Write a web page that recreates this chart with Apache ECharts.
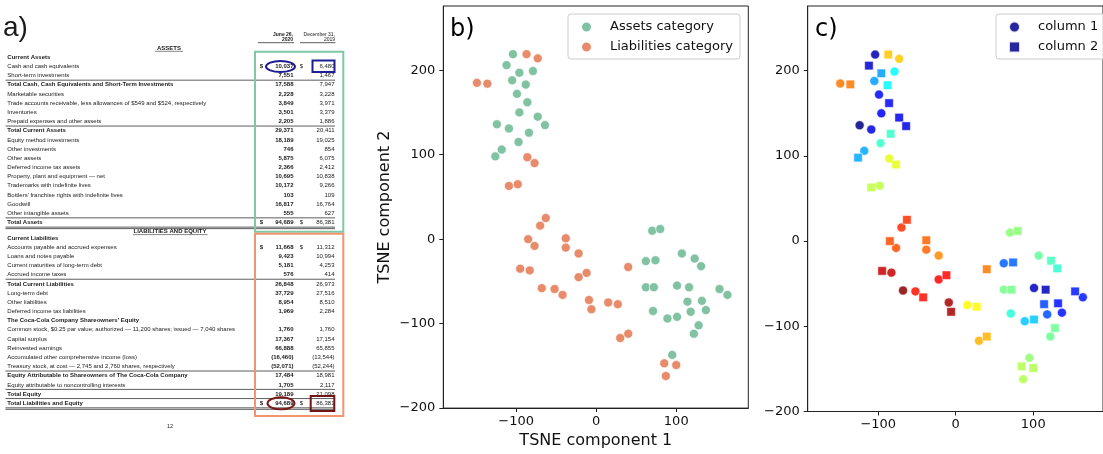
<!DOCTYPE html>
<html>
<head>
<meta charset="utf-8">
<script src="https://cdn.jsdelivr.net/npm/echarts@6/dist/echarts.min.js"></script>
<style>
html, body { margin: 0; padding: 0; background: #fff; }
#fig { width: 1103px; height: 454px; }
</style>
</head>
<body>
<div id="fig"></div>
<script>
// ---- balance sheet rows (panel a) ----
var assetLabels = ['Current Assets', 'Cash and cash equivalents', 'Short-term investments',
    'Total Cash, Cash Equivalents and Short-Term Investments', 'Marketable securities',
    'Trade accounts receivable, less allowances of $549 and $524, respectively', 'Inventories',
    'Prepaid expenses and other assets', 'Total Current Assets', 'Equity method investments',
    'Other investments', 'Other assets', 'Deferred income tax assets', 'Property, plant and equipment \u2014 net',
    'Trademarks with indefinite lives', "Bottlers' franchise rights with indefinite lives", 'Goodwill',
    'Other intangible assets', 'Total Assets'];
var assets2020 = ['', '10,037', '7,551', '17,588', '2,228', '3,849', '3,501', '2,205', '29,371', '18,189',
    '746', '5,875', '2,366', '10,695', '10,172', '103', '16,817', '555', '94,689'];
var assets2019 = ['', '6,480', '1,467', '7,947', '3,228', '3,971', '3,379', '1,886', '20,411', '19,025',
    '854', '6,075', '2,412', '10,838', '9,266', '109', '16,764', '627', '86,381'];

var liabLabels = ['Current Liabilities', 'Accounts payable and accrued expenses', 'Loans and notes payable',
    'Current maturities of long-term debt', 'Accrued income taxes', 'Total Current Liabilities', 'Long-term debt',
    'Other liabilities', 'Deferred income tax liabilities', "The Coca-Cola Company Shareowners' Equity",
    'Common stock, $0.25 par value; authorized \u2014 11,200 shares; issued \u2014 7,040 shares', 'Capital surplus',
    'Reinvested earnings', 'Accumulated other comprehensive income (loss)',
    'Treasury stock, at cost \u2014 2,745 and 2,760 shares, respectively',
    'Equity Attributable to Shareowners of The Coca-Cola Company', 'Equity attributable to noncontrolling interests',
    'Total Equity', 'Total Liabilities and Equity'];
var liab2020 = ['', '11,668', '9,423', '5,181', '576', '26,848', '37,729', '8,954', '1,969', '', '1,760',
    '17,367', '66,888', '(16,460)', '(52,071)', '17,484', '1,705', '19,189', '94,689'];
var liab2019 = ['', '11,312', '10,994', '4,253', '414', '26,973', '27,516', '8,510', '2,284', '', '1,760',
    '17,154', '65,855', '(13,544)', '(52,244)', '18,981', '2,117', '21,098', '86,381'];

// ---- TSNE points (panels b and c) ----
var ptX = [-104, -87, -73, -112, -96, -79, -105, -88, -149, -136, -99, -86, -96, -73, -64, -124, -109, -84, -97, -118, -126, -86, -77, -109, -98,
    -63, -70, -85, -77, -38, -38, -22, -95, -83, 40, -12, -22, -68, -52, -42, -9, -6, 15, 27, 30, 40,
    70, 80, 62, 74, 107, 123, 131, 62, 72, 101, 116, 154, 164, 114, 132, 118, 137, 71, 89, 101, 128, 122, 95, 85, 100, 87];
var ptY = [219, 219, 214, 206, 197, 199, 188, 183, 185, 184, 172, 162, 150, 145, 135, 136, 131, 126, 115, 106, 98, 97, 90, 63, 65,
    25, 16, 0, -8, 1, -10, -17, -35, -37, -33, -40, -45, -58, -59, -66, -72, -83, -75, -77, -117, -112,
    10, 12, -26, -25, -17, -23, -32, -57, -57, -55, -57, -59, -66, -74, -73, -86, -84, -85, -94, -92, -102, -112, -137, -147, -149, -162];
var ptShade = [.05, .68, .68, .08, .28, .37, .28, .37, .76, .76, .13, .13, .12, .11, .10, 0, .10, .43, .43, .29, .29, .60, .60, .56, .56,
    .83, .83, .80, .80, .78, .78, .74, .93, .93, .76, .87, .87, .99, .86, .86, .96, .96, .63, .63, .70, .70,
    .51, .51, .22, .22, .47, .44, .42, .49, .49, .06, .06, .15, .15, .19, .14, .20, .14, .41, .32, .32, .48, .48, .52, .55, .55, .55];
var ptColumn = [1, 2, 1, 2, 2, 1, 1, 2, 1, 2, 1, 2, 1, 2, 2, 1, 1, 2, 1, 1, 2, 1, 2, 2, 1,
    2, 1, 2, 1, 2, 1, 1, 2, 1, 2, 2, 1, 1, 1, 2, 1, 2, 1, 2, 1, 2,
    1, 2, 1, 2, 1, 2, 2, 1, 2, 1, 2, 2, 1, 2, 2, 1, 1, 1, 1, 2, 2, 1, 1, 2, 2, 1];
var ptCategory = ['A', 'L', 'L', 'A', 'A', 'A', 'A', 'A', 'L', 'L', 'A', 'A', 'A', 'A', 'A', 'A', 'A', 'A', 'A', 'A', 'A', 'L', 'L', 'L', 'L',
    'L', 'L', 'L', 'L', 'L', 'L', 'L', 'L', 'L', 'L', 'L', 'L', 'L', 'L', 'L', 'L', 'L', 'L', 'L', 'L', 'L',
    'A', 'A', 'A', 'A', 'A', 'A', 'A', 'A', 'A', 'A', 'A', 'A', 'A', 'A', 'A', 'A', 'A', 'A', 'A', 'A', 'A', 'A', 'A', 'L', 'L', 'L'];

var xTicks = [-100, 0, 100];
var yTicks = [-200, -100, 0, 100, 200];

var jet = ['#00007f', '#0000ff', '#007fff', '#00ffff', '#7fff7f', '#ffff00', '#ff7f00', '#ff0000', '#7f0000'];

// ---- panel a drawn as graphic text ----
var SHEET_FONT = '"Liberation Sans", Arial, sans-serif';
var ROW = 9.18;
var els = [];

function addText(x, y, s, bold, align, size) {
    els.push({
        type: 'text', x: x, y: y, silent: true,
        style: {
            text: s, font: (bold ? 'bold ' : '') + (size || 6) + 'px ' + SHEET_FONT,
            fill: '#1a1a1a', align: align || 'left', verticalAlign: 'middle'
        }
    });
}
function addLine(x1, y1, x2, y2, w, c) {
    els.push({
        type: 'line', silent: true, shape: {x1: x1, y1: y1, x2: x2, y2: y2},
        style: {stroke: c || '#333', lineWidth: w || 0.8}
    });
}
function section(labels, v1, v2, bold, dollar, lines, y0) {
    labels.forEach(function (lab, i) {
        var y = y0 + i * ROW;
        addText(7.3, y, lab, bold.indexOf(i) >= 0);
        if (v1[i]) addText(293.5, y, v1[i], true, 'right');
        if (v2[i]) addText(334.5, y, v2[i], false, 'right');
        if (dollar.indexOf(i) >= 0) {
            addText(259.8, y, '$', true);
            addText(299.8, y, '$', false);
        }
    });
    lines.forEach(function (i) {
        addLine(5.5, y0 + i * ROW + 4.5, 335, y0 + i * ROW + 4.5);
    });
    var last = labels.length - 1;
    addLine(5.5, y0 + last * ROW + 4.6, 335, y0 + last * ROW + 4.6);
    addLine(5.5, y0 + last * ROW + 6.1, 335, y0 + last * ROW + 6.1);
}

addText(3, 28.5, 'a)', false, 'left', 28);
addText(293, 34.3, 'June 26,', true, 'right', 5);
addText(293, 39.3, '2020', true, 'right', 5);
addText(335, 34.3, 'December 31,', false, 'right', 5);
addText(335, 39.3, '2019', false, 'right', 5);
addLine(258, 42.7, 294, 42.7, 0.8);
addLine(300, 42.7, 335.5, 42.7, 0.8);
addText(169, 48, 'ASSETS', true, 'center');
addLine(155, 51.3, 183, 51.3, 0.6);
section(assetLabels, assets2020, assets2019, [0, 3, 8, 18], [1, 18], [2, 7, 17], 57.3);
addText(170, 231.5, 'LIABILITIES AND EQUITY', true, 'center');
addLine(133, 234.6, 207.5, 234.6, 0.6);
section(liabLabels, liab2020, liab2019, [0, 5, 9, 15, 17, 18], [1, 18], [4, 14, 16, 17], 238);
addText(170, 426.5, '12', false, 'center', 5.5);

// coloured boxes and marks
els.push({type: 'rect', silent: true, shape: {x: 255, y: 51.7, width: 88.3, height: 180},
    style: {fill: 'none', stroke: '#7ec8a7', lineWidth: 2}});
els.push({type: 'rect', silent: true, shape: {x: 255, y: 233.7, width: 88.3, height: 182.3},
    style: {fill: 'none', stroke: '#f2956d', lineWidth: 2}});
els.push({type: 'ellipse', silent: true, shape: {cx: 280.5, cy: 66.5, rx: 14.5, ry: 5.5},
    style: {fill: 'none', stroke: '#1c1c90', lineWidth: 2}});
els.push({type: 'rect', silent: true, shape: {x: 312.5, y: 60.5, width: 22, height: 11.5},
    style: {fill: 'none', stroke: '#1d1d94', lineWidth: 2}});
els.push({type: 'ellipse', silent: true, shape: {cx: 281, cy: 403.3, rx: 13.5, ry: 6},
    style: {fill: 'none', stroke: '#7b1717', lineWidth: 2}});
els.push({type: 'rect', silent: true, shape: {x: 310.7, y: 396, width: 23.6, height: 15},
    style: {fill: 'none', stroke: '#6f1515', lineWidth: 2}});

// panel letters b) c)
els.push({type: 'text', x: 450, y: 29.5, silent: true,
    style: {text: 'b)', font: '24px "DejaVu Sans"', fill: '#000', verticalAlign: 'middle'}});
els.push({type: 'text', x: 815, y: 29.5, silent: true,
    style: {text: 'c)', font: '24px "DejaVu Sans"', fill: '#000', verticalAlign: 'middle'}});

// ---- scatter data ----
var assetPts = [], liabPts = [], col1Pts = [], col2Pts = [];
for (var i = 0; i < ptX.length; i++) {
    (ptCategory[i] === 'A' ? assetPts : liabPts).push([ptX[i], ptY[i]]);
    (ptColumn[i] === 1 ? col1Pts : col2Pts).push([ptX[i], ptY[i], ptShade[i]]);
}

function minus(v) { return v < 0 ? '\u2212' + Math.abs(v) : String(v); }
var tickFont = {fontFamily: 'DejaVu Sans', fontSize: 13, color: '#111'};
var nameFont = {fontFamily: 'DejaVu Sans', fontSize: 16, color: '#111'};

function xAxisFor(g, name) {
    return {
        type: 'value', gridIndex: g, min: -191, max: 190,
        splitLine: {show: false},
        axisLine: {onZero: false, lineStyle: {color: '#222', width: 1}},
        axisTick: {length: 4, lineStyle: {color: '#222'}, customValues: xTicks},
        axisLabel: Object.assign({customValues: xTicks, formatter: minus, margin: 7}, tickFont),
        name: name, nameLocation: 'middle', nameGap: 24, nameTextStyle: nameFont
    };
}
function yAxisFor(g, name) {
    return {
        type: 'value', gridIndex: g, min: -200, max: 276,
        splitLine: {show: false},
        axisLine: {onZero: false, lineStyle: {color: '#222', width: 1}},
        axisTick: {length: 4, lineStyle: {color: '#222'}, customValues: yTicks},
        axisLabel: Object.assign({customValues: yTicks, formatter: minus, margin: 8}, tickFont),
        name: name, nameLocation: 'middle', nameGap: 50, nameTextStyle: nameFont
    };
}
var legendBase = {
    orient: 'vertical', top: 14, itemWidth: 25, itemHeight: 11, itemGap: 6,
    padding: [6, 7, 5, 12], borderColor: '#ccc', borderWidth: 1, borderRadius: 3,
    backgroundColor: 'rgba(255,255,255,0.8)', symbolKeepAspect: true,
    formatter: function (name) { return '{t|' + name + '}'; },
    textStyle: {
        fontFamily: 'DejaVu Sans', fontSize: 13, color: '#111', lineHeight: 14,
        rich: {t: {fontFamily: 'DejaVu Sans', fontSize: 13, color: '#111', lineHeight: 14, padding: [0, 0, 0, 6]}}
    }
};
var squareIcon = 'path://M0,0L10,0L10,10L0,10Z';

var myChart = echarts.init(document.getElementById('fig'), null, {renderer: 'canvas'});
var option = {
    animation: false,
    backgroundColor: '#fff',
    graphic: {elements: els},
    grid: [
        {left: 443.3, top: 6, width: 305, height: 405.5, show: true, borderColor: '#222', borderWidth: 1},
        {left: 807.7, top: 6, width: 305, height: 405.5, show: true, borderColor: '#222', borderWidth: 1}
    ],
    xAxis: [xAxisFor(0, 'TSNE component 1'), xAxisFor(1, '')],
    yAxis: [yAxisFor(0, 'TSNE component 2'), yAxisFor(1, '')],
    legend: [
        Object.assign({left: 568, icon: 'circle', data: ['Assets category', 'Liabilities category']}, legendBase),
        Object.assign({left: 996, data: [{name: 'column 1', icon: 'circle'}, {name: 'column 2', icon: squareIcon}]}, legendBase)
    ],
    visualMap: {
        show: false, type: 'continuous', seriesIndex: [2, 3], dimension: 2, min: 0, max: 1,
        inRange: {color: jet}
    },
    series: [
        {type: 'scatter', name: 'Assets category', xAxisIndex: 0, yAxisIndex: 0, data: assetPts,
            symbolSize: 9, itemStyle: {color: 'rgb(129,194,163)', borderColor: '#fff', borderWidth: 0.6, opacity: 1}},
        {type: 'scatter', name: 'Liabilities category', xAxisIndex: 0, yAxisIndex: 0, data: liabPts,
            symbolSize: 9, itemStyle: {color: 'rgb(231,139,106)', borderColor: '#fff', borderWidth: 0.6, opacity: 1}},
        {type: 'scatter', name: 'column 1', xAxisIndex: 1, yAxisIndex: 1, data: col1Pts, symbol: 'circle',
            symbolSize: 9, itemStyle: {color: '#00008f', borderColor: '#fff', borderWidth: 0.6, opacity: 0.85}},
        {type: 'scatter', name: 'column 2', xAxisIndex: 1, yAxisIndex: 1, data: col2Pts, symbol: 'rect',
            symbolSize: 8.5, itemStyle: {color: '#00008f', borderColor: '#fff', borderWidth: 0.6, opacity: 0.85}}
    ]
};
myChart.setOption(option);
</script>
</body>
</html>
